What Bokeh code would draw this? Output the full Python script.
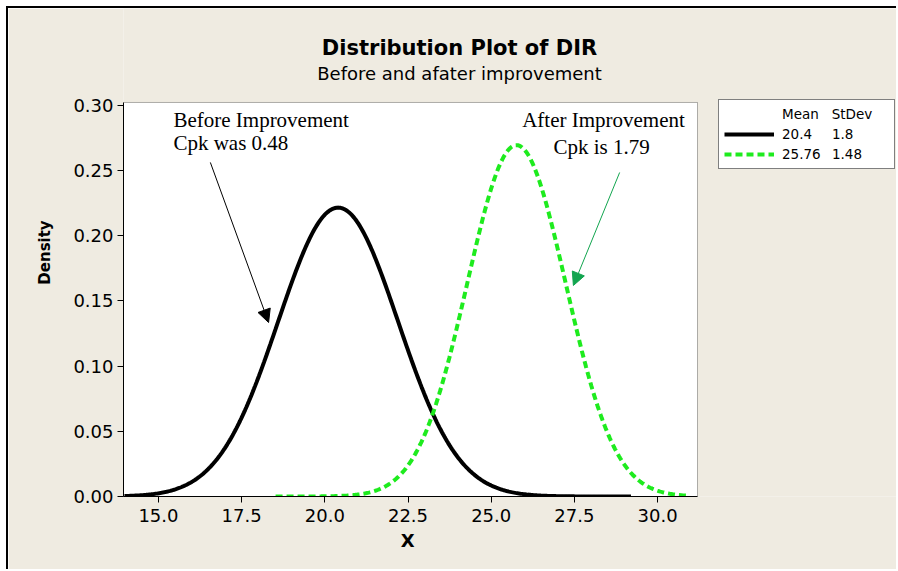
import numpy as np
from bokeh.plotting import figure
from bokeh.models import (Range1d, FixedTicker, NumeralTickFormatter, Label, Arrow,
                          NormalHead, Legend, LegendItem, BoxAnnotation)
from bokeh.embed import file_html
from bokeh.resources import INLINE

# ---- data ----
series_means = [20.4, 25.76]
series_stdevs = [1.8, 1.48]
curve_x_start = [13.98, 18.52]
curve_x_end = [29.2, 30.93]
series_colors = ["black", "#1EEB1E"]
series_dashes = ["solid", "7 4"]

x_ticks = [15.0, 17.5, 20.0, 22.5, 25.0, 27.5, 30.0]
y_ticks = [0.00, 0.05, 0.10, 0.15, 0.20, 0.25, 0.30]
x_axis_limits = [13.95, 31.2]
y_axis_limits = [0.0, 0.3023]

legend_headers = ["Mean", "StDev"]
note_text = [["Before Improvement", "Cpk was 0.48"], ["After Improvement", "Cpk is 1.79"]]
note_x = [[15.45, 15.45], [25.93, 26.87]]
note_y = [[0.2892, 0.2709], [0.2885, 0.2678]]
arrow_from = [(16.56, 0.2563), (28.86, 0.2486)]
arrow_to = [(18.31, 0.1335), (27.47, 0.1619)]
arrow_colors = ["black", "#12A54F"]

BG = "#EFEBE1"
SANS = "DejaVu Sans"
NB = "\u00a0"

# frame spans to the right and top edges of the canvas; the white data area is drawn inside it
p = figure(width=890, height=563, x_range=Range1d(13.95, 37.24), y_range=Range1d(0, 0.3744),
           output_backend="svg", toolbar_location=None,
           min_border_left=115, min_border_top=0, min_border_right=0, min_border_bottom=75,
           background_fill_color=BG, border_fill_color=BG, outline_line_color=None)
p.styles = {"margin-left": "6px", "margin-top": "6px",
            "border-left": "2px solid black", "border-top": "2px solid black"}
p.xgrid.visible = False
p.ygrid.visible = False

p.add_layout(BoxAnnotation(left=x_axis_limits[0], right=x_axis_limits[1],
                           bottom=y_axis_limits[0], top=y_axis_limits[1],
                           fill_color="white", fill_alpha=1.0, line_color="black",
                           line_width=1, level="underlay"))

for ax in (p.xaxis[0], p.yaxis[0]):
    ax.major_tick_out = 6
    ax.major_tick_in = 0
    ax.minor_tick_line_color = None
    ax.axis_line_color = "black"
    ax.major_tick_line_color = "black"
    ax.major_label_text_font = SANS
    ax.major_label_text_font_size = "18px"
    ax.major_label_text_color = "black"
    ax.axis_label_text_font = SANS
    ax.axis_label_text_font_style = "bold"
    ax.axis_label_text_color = "black"

p.xaxis.bounds = tuple(x_axis_limits)
p.xaxis.ticker = FixedTicker(ticks=x_ticks)
p.xaxis.formatter = NumeralTickFormatter(format="0.0")
p.xaxis.major_label_standoff = 6
# label centred under the data area (not the whole frame): pad with no-break spaces
p.xaxis.axis_label = "X" + NB * 33
p.xaxis.axis_label_text_font_size = "18px"
p.xaxis.axis_label_standoff = 5

p.yaxis.bounds = tuple(y_axis_limits)
p.yaxis.ticker = FixedTicker(ticks=y_ticks)
p.yaxis.formatter = NumeralTickFormatter(format="0.00")
p.yaxis.major_label_standoff = 4
p.yaxis.axis_label = "Density"
p.yaxis.axis_label_text_font_size = "15px"
p.yaxis.axis_label_standoff = 16

# ---- density curves ----
renderers = []
for m, s, x0, x1, c, d in zip(series_means, series_stdevs, curve_x_start, curve_x_end,
                              series_colors, series_dashes):
    xs = np.linspace(x0, x1, 400)
    ys = np.exp(-0.5 * ((xs - m) / s) ** 2) / (s * np.sqrt(2 * np.pi))
    r = p.line(xs, ys, line_color=c, line_width=4, line_dash=d)
    renderers.append(r)

# ---- annotations ----
for lines, xs, ys in zip(note_text, note_x, note_y):
    for t, x, y in zip(lines, xs, ys):
        p.add_layout(Label(x=x, y=y, text=t, text_font="Liberation Serif",
                           text_font_size="21px", text_baseline="middle",
                           text_align="left", text_color="black"))

for (x0, y0), (x1, y1), c in zip(arrow_from, arrow_to, arrow_colors):
    p.add_layout(Arrow(x_start=x0, y_start=y0, x_end=x1, y_end=y1,
                       line_color=c, line_width=1,
                       end=NormalHead(size=13, fill_color=c, line_color=c)))

# ---- titles ----
p.add_layout(Label(x=336, y=449, x_units="screen", y_units="screen",
                   text="Distribution Plot of DIR", text_font=SANS, text_font_style="bold",
                   text_font_size="21px", text_align="center", text_baseline="middle",
                   text_color="black"))
p.add_layout(Label(x=336, y=423, x_units="screen", y_units="screen",
                   text="Before and afater improvement", text_font=SANS,
                   text_font_size="18px", text_align="center", text_baseline="middle",
                   text_color="black"))

# ---- legend (two column table) ----
SEP = NB + NB + "\u2009"
FIG = "\u2007"
blank = p.line(x=[], y=[], line_alpha=0)
items = [LegendItem(label=legend_headers[0] + NB * 3 + legend_headers[1], renderers=[blank])]
for m, s, r in zip(series_means, series_stdevs, renderers):
    col1 = str(m)
    col1 = col1 + FIG * (5 - len(col1))
    items.append(LegendItem(label=col1 + SEP + str(s), renderers=[r]))

leg = Legend(items=items, location=(595, 327), glyph_width=50, label_standoff=8,
             label_width=107, border_line_color="black", border_line_width=1,
             background_fill_color="white", background_fill_alpha=1.0,
             label_text_font=SANS, label_text_font_size="13.5px", label_text_color="black",
             glyph_height=18, label_height=18, spacing=2, padding=5, margin=0)
p.add_layout(leg, "center")

open("out.html", "w").write(file_html(p, INLINE))
